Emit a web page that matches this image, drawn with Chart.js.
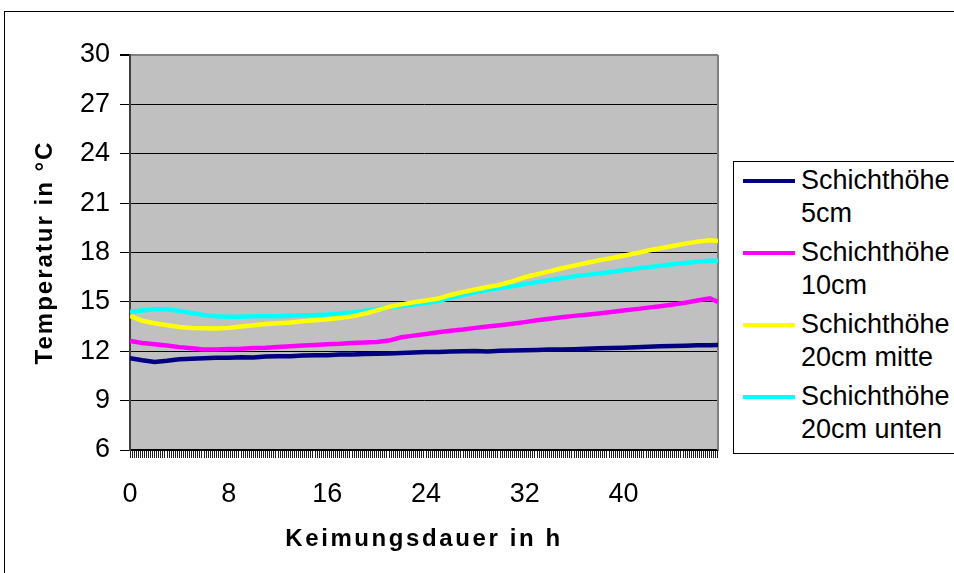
<!DOCTYPE html>
<html>
<head>
<meta charset="utf-8">
<script src="https://cdn.jsdelivr.net/npm/chart.js"></script>
<style>
  html, body { margin: 0; padding: 0; background: #fff; overflow: hidden; }
  #wrap { position: relative; width: 954px; height: 573px; overflow: hidden; }
  #frame { position: absolute; left: 4px; top: 11px; width: 1000px; height: 600px; border: 1px solid #000; }
  #chart { position: absolute; left: 0; top: 0; }
  #legend { position: absolute; left: 733px; top: 161px; width: 260px; height: 291px; border: 1px solid #000;
            background: #fff; font-family: "Liberation Sans", Arial, sans-serif; font-size: 27px; color: #000; }
  #legend .item { position: relative; height: 66px; margin-top: 6px; }
  #legend .item:first-child { margin-top: 2px; }
  #legend .swatch { position: absolute; left: 9px; top: 15px; width: 52px; height: 4px; }
  #legend .label { position: absolute; left: 67px; top: 0; line-height: 33px; white-space: nowrap; }
</style>
</head>
<body>
<div id="wrap">
  <div id="frame"></div>
  <canvas id="chart" width="954" height="573"></canvas>
  <div id="legend"></div>
</div>
<script>
/*global Chart*/
// Keimungsdauer in h
var hours = [0, 1, 2, 3, 4, 5, 6, 7, 8, 9, 10, 11, 12, 13, 14, 15, 16, 17, 18, 19, 20, 21, 22, 23,
  24, 25, 26, 27, 28, 29, 30, 31, 32, 33, 34, 35, 36, 37, 38, 39, 40, 41, 42, 43, 44, 45, 46, 47, 47.67];

var seriesNames = [["Schichthöhe", "5cm"], ["Schichthöhe", "10cm"], ["Schichthöhe", "20cm mitte"], ["Schichthöhe", "20cm unten"]];
var seriesColors = ["#000080", "#FF00FF", "#FFFF00", "#00FFFF"];

var temp5cm = [11.57, 11.45, 11.35, 11.42, 11.52, 11.55, 11.57, 11.6, 11.6, 11.63, 11.62, 11.68, 11.7, 11.7, 11.74, 11.76,
  11.76, 11.8, 11.8, 11.83, 11.85, 11.86, 11.9, 11.92, 11.95, 11.96, 11.98, 12.0, 12.02, 11.99, 12.03, 12.05,
  12.06, 12.08, 12.1, 12.1, 12.12, 12.15, 12.18, 12.2, 12.22, 12.24, 12.27, 12.3, 12.32, 12.34, 12.36, 12.37, 12.38];
var temp10cm = [12.62, 12.5, 12.42, 12.35, 12.25, 12.18, 12.1, 12.1, 12.13, 12.15, 12.2, 12.22, 12.26, 12.3, 12.35, 12.38,
  12.42, 12.45, 12.5, 12.53, 12.56, 12.65, 12.85, 12.95, 13.05, 13.15, 13.25, 13.32, 13.42, 13.5, 13.58, 13.67,
  13.77, 13.88, 13.98, 14.07, 14.15, 14.22, 14.3, 14.38, 14.47, 14.56, 14.65, 14.74, 14.84, 14.95, 15.08, 15.22, 15.0];
var temp20mitte = [14.15, 13.85, 13.7, 13.58, 13.48, 13.42, 13.4, 13.38, 13.42, 13.5, 13.58, 13.65, 13.7, 13.75, 13.82, 13.88,
  13.94, 14.02, 14.12, 14.28, 14.48, 14.7, 14.85, 14.98, 15.08, 15.2, 15.42, 15.6, 15.75, 15.9, 16.04, 16.25,
  16.5, 16.68, 16.85, 17.04, 17.2, 17.36, 17.52, 17.65, 17.8, 17.95, 18.12, 18.26, 18.4, 18.54, 18.66, 18.74, 18.7];
var temp20unten = [14.4, 14.48, 14.55, 14.55, 14.45, 14.32, 14.2, 14.12, 14.1, 14.1, 14.12, 14.12, 14.13, 14.15, 14.18, 14.2,
  14.24, 14.3, 14.36, 14.44, 14.55, 14.66, 14.75, 14.84, 14.93, 15.05, 15.25, 15.42, 15.58, 15.72, 15.84, 15.95,
  16.08, 16.2, 16.32, 16.44, 16.55, 16.64, 16.73, 16.82, 16.92, 17.02, 17.1, 17.2, 17.28, 17.36, 17.44, 17.5, 17.5];

var xTickLabels = [0, 8, 16, 24, 32, 40];
var xMinorStep = 1 / 6;   // one tick mark per measurement interval (10 min)
var xMax = 47.67;
var yMin = 6, yMax = 30, yStep = 3;

var FONT = '"Liberation Sans", Arial, sans-serif';

var toPoints = function(values) {
  return values.map(function(v, i) { return {x: hours[i], y: v}; });
};

var allSeries = [temp5cm, temp10cm, temp20mitte, temp20unten];
var datasets = allSeries.map(function(values, i) {
  return {
    label: seriesNames[i].join(' '),
    data: toPoints(values),
    borderColor: seriesColors[i],
    backgroundColor: seriesColors[i],
    borderWidth: 4.5,
    pointRadius: 0,
    tension: 0
  };
});

// grey plot area like the old spreadsheet charts
var plotArea = {
  id: 'plotArea',
  beforeDraw: function(chart) {
    var a = chart.chartArea, ctx = chart.ctx;
    ctx.save();
    ctx.fillStyle = '#C0C0C0';
    ctx.fillRect(a.left, a.top, a.right - a.left, a.bottom - a.top);
    ctx.restore();
  },
  beforeDatasetsDraw: function(chart) {
    var a = chart.chartArea, ctx = chart.ctx;
    ctx.save();
    ctx.strokeStyle = '#808080';
    ctx.lineWidth = 2;
    ctx.beginPath();
    ctx.moveTo(a.right, a.top);
    ctx.lineTo(a.right, a.bottom);
    ctx.stroke();
    ctx.restore();
  }
};

// axis titles are drawn with wide letter spacing
var titleSpacing = {
  id: 'titleSpacing',
  afterLayout: function(chart) {
    Object.keys(chart.scales).forEach(function(id) {
      var scale = chart.scales[id];
      if (scale.__spaced) return;
      var draw = scale.drawTitle;
      scale.drawTitle = function() {
        this.ctx.save();
        this.ctx.letterSpacing = this.axis === 'x' ? '2.6px' : '2px';
        draw.apply(this, arguments);
        this.ctx.restore();
      };
      scale.__spaced = true;
    });
  }
};

var ctx = document.getElementById('chart').getContext('2d');
new Chart(ctx, {
  type: 'line',
  data: {datasets: datasets},
  plugins: [plotArea, titleSpacing],
  options: {
    responsive: false,
    animation: false,
    layout: {padding: {left: 0, top: 55, right: 236, bottom: 0}},
    plugins: {legend: {display: false}, tooltip: {enabled: false}},
    scales: {
      x: {
        type: 'linear',
        min: 0,
        max: xMax,
        afterBuildTicks: function(scale) {
          var t = [];
          for (var i = 0; i * xMinorStep <= xMax; i++) t.push({value: i * xMinorStep});
          scale.ticks = t;
        },
        afterFit: function(scale) { scale.height = 123; },
        ticks: {
          autoSkip: false,
          maxRotation: 0,
          padding: 20,
          color: '#000',
          font: {family: FONT, size: 27},
          callback: function(v) {
            var r = Math.round(v);
            return (Math.abs(v - r) < 1e-6 && xTickLabels.indexOf(r) >= 0) ? String(r) : '';
          }
        },
        grid: {drawOnChartArea: false, tickLength: 8, tickColor: '#222', tickWidth: 1},
        border: {color: '#000', width: 1.5},
        title: {display: true, text: 'Keimungsdauer in h', color: '#000',
          font: {family: FONT, size: 24, weight: 'bold'}, padding: {top: 0, bottom: 19}}
      },
      y: {
        min: yMin,
        max: yMax,
        afterFit: function(scale) { scale.width = 130; },
        ticks: {stepSize: yStep, padding: 10, color: '#000', font: {family: FONT, size: 27}},
        grid: {
          color: function(c) { return c.tick && c.tick.value === yMax ? '#808080' : '#000'; },
          lineWidth: function(c) { return c.tick && c.tick.value === yMax ? 2 : 1; },
          tickColor: '#000',
          tickLength: 10
        },
        border: {color: '#404040', width: 2},
        title: {display: true, text: 'Temperatur in °C', color: '#000',
          font: {family: FONT, size: 24, weight: 'bold'}, padding: {top: 31, bottom: 0}}
      }
    }
  }
});

// legend box, entries wrap onto two lines as in the original
var legend = document.getElementById('legend');
seriesNames.forEach(function(name, i) {
  var item = document.createElement('div');
  item.className = 'item';
  item.innerHTML = '<div class="swatch" style="background:' + seriesColors[i] + '"></div>' +
    '<div class="label">' + name[0] + '<br>' + name[1] + '</div>';
  legend.appendChild(item);
});
</script>
</body>
</html>
